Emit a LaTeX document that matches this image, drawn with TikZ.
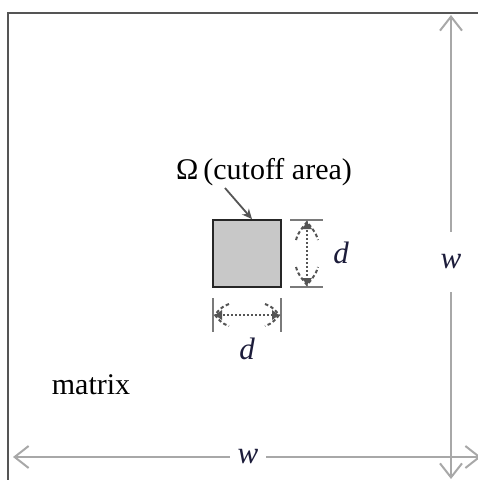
\documentclass[tikz,border=0pt]{standalone}
\usepackage{fontspec}
\setmainfont{Liberation Serif}
\usetikzlibrary{arrows.meta}
\definecolor{boxgray}{HTML}{555555}
\definecolor{arrgray}{HTML}{A8A8A8}
\definecolor{fillgray}{HTML}{C8C8C8}
\definecolor{extgray}{HTML}{7A7A7A}
\definecolor{ink}{HTML}{1C1C3A}
\tikzset{
  dimarrow/.style={draw=arrgray, line width=2pt, -{Straight Barb[length=14pt,width=22pt,line width=2pt]}},
  extline/.style={draw=extgray, line width=1.8pt},
  dotarrow/.style={draw=boxgray, line width=2pt, dash pattern=on 2pt off 2pt},
  dothead/.style={draw=boxgray, line width=2pt, dash pattern=on 3.5pt off 2.5pt},
  varlabel/.style={font=\fontsize{31}{33}\selectfont\itshape, text=ink, inner sep=0pt},
  plainlabel/.style={font=\fontsize{30}{32}\selectfont, text=black, inner sep=0pt}
}
\begin{document}
\begin{tikzpicture}[x=1pt,y=-1pt]
\useasboundingbox (0,0) rectangle (478,480);
% outer matrix box (partly cropped)
\draw[draw=boxgray, line width=2.2pt] (8,482) -- (8,13) -- (480,13);
% overall dimension arrows
\node[varlabel, minimum height=60pt] (wr) at (451,262) {w};
\node[varlabel, minimum width=36pt] (wb) at (248,457) {w};
\coordinate (vtop) at (451,15);
\coordinate (vbot) at (451,479);
\coordinate (hleft) at (13,457);
\coordinate (hright) at (481,457);
\draw[dimarrow] (wr.north) -- (vtop);
\draw[dimarrow] (wr.south) -- (vbot);
\draw[dimarrow] (wb.west) -- (hleft);
\draw[dimarrow] (wb.east) -- (hright);
% cutoff square
\node[draw=black!85, line width=1.8pt, fill=fillgray, minimum width=68pt, minimum height=67pt, inner sep=0pt] (sq) at (247,253.5) {};
\node[plainlabel] (om) at (264,172) {Ω\,(cutoff area)};
\draw[draw=boxgray, line width=1.8pt, -{Stealth[length=10pt,width=9pt]}] (225,188) -- (sq.north east -| 252,0);
% vertical d dimension
\coordinate (vt1) at (290,220); \coordinate (vt2) at (323,220);
\coordinate (vb1) at (290,287); \coordinate (vb2) at (323,287);
\draw[extline] (vt1) -- (vt2);
\draw[extline] (vb1) -- (vb2);
\coordinate (vda) at (307,222); \coordinate (vdb) at (307,285);
\draw[dotarrow] (vda) -- (vdb);
\draw[dothead] (296,240) .. controls (298,232) and (304,226) .. (vda) .. controls (310,226) and (316,232) .. (318,240);
\draw[dothead] (296,267) .. controls (298,275) and (304,281) .. (vdb) .. controls (310,281) and (316,275) .. (318,267);
\fill[boxgray] (vda) -- (302,229) -- (312,229) -- cycle;
\fill[boxgray] (vdb) -- (302,278) -- (312,278) -- cycle;
\node[varlabel] (dr) at (341,253) {d};
% horizontal d dimension
\coordinate (hl1) at (213,298); \coordinate (hl2) at (213,332);
\coordinate (hr1) at (281,298); \coordinate (hr2) at (281,332);
\draw[extline] (hl1) -- (hl2);
\draw[extline] (hr1) -- (hr2);
\coordinate (hda) at (215,315); \coordinate (hdb) at (279,315);
\draw[dotarrow] (hda) -- (hdb);
\draw[dothead] (229,304) .. controls (222,306) and (218,311) .. (hda) .. controls (218,319) and (222,324) .. (229,326);
\draw[dothead] (265,304) .. controls (272,306) and (276,311) .. (hdb) .. controls (276,319) and (272,324) .. (265,326);
\fill[boxgray] (hda) -- (222,310) -- (222,320) -- cycle;
\fill[boxgray] (hdb) -- (272,310) -- (272,320) -- cycle;
\node[varlabel] (db) at (247,349) {d};
% matrix label
\node[plainlabel] (mx) at (91,385) {matrix};
\end{tikzpicture}
\end{document}
